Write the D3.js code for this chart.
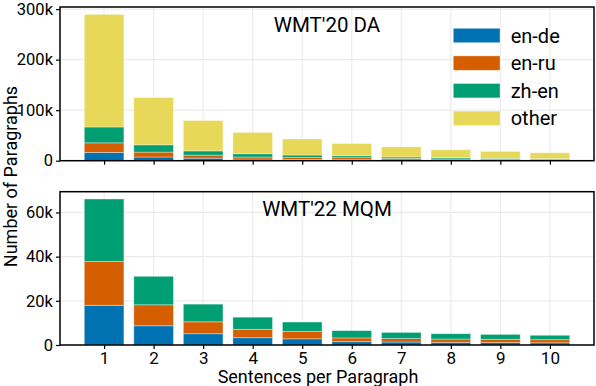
<!DOCTYPE html>
<html>
<head>
<meta charset="utf-8">
<script src="https://cdn.jsdelivr.net/npm/d3@7"></script>
<style>
  html, body { margin: 0; padding: 0; background: #fff; }
  svg { display: block; }
  text { font-family: Roboto, "Noto Sans", sans-serif; fill: #000; }
</style>
</head>
<body>
<svg id="chart" width="596" height="386"></svg>
<script>
// ---- Data ----
const sentences = [1, 2, 3, 4, 5, 6, 7, 8, 9, 10];
const seriesNames = ["en-de", "en-ru", "zh-en", "other"];
const seriesColors = ["#0072B2", "#D55E00", "#009E73", "#E8D85A"];

// WMT'20 DA (counts per segment)
const da_ende  = [16500, 7300, 5000, 3300, 2500, 2000, 1500, 1300, 1000, 900];
const da_enru  = [18800, 9700, 6000, 4000, 3800, 4000, 3000, 2200, 2000, 1600];
const da_zhen  = [31400, 14400, 8400, 6400, 4900, 3800, 2800, 2500, 1700, 1500];
const da_other = [223000, 93600, 60100, 42300, 31800, 24200, 20200, 15600, 13700, 11700];

// WMT'22 MQM
const mqm_ende  = [18000, 8700, 5100, 3300, 2800, 1500, 1350, 1200, 1100, 1000];
const mqm_enru  = [19800, 9500, 5400, 3800, 3400, 1700, 1550, 1500, 1500, 1400];
const mqm_zhen  = [28300, 12900, 8000, 5500, 4200, 3300, 2800, 2400, 2200, 2000];
const mqm_other = [0, 0, 0, 0, 0, 0, 0, 0, 0, 0];

const yTicksTop = [0, 100000, 200000, 300000];
const yTicksBottom = [0, 20000, 40000, 60000];
const titles = ["WMT'20 DA", "WMT'22 MQM"];
const xLabel = "Sentences per Paragraph";
const yLabel = "Number of Paragraphs";

// ---- Layout ----
const svg = d3.select("#chart");
const left = 60, right = 594;
const panels = [
  { top: 7, bottom: 160.7, data: [da_ende, da_enru, da_zhen, da_other], ticks: yTicksTop, title: titles[0], legend: true, showXLabels: false },
  { top: 191.7, bottom: 345, data: [mqm_ende, mqm_enru, mqm_zhen, mqm_other], ticks: yTicksBottom, title: titles[1], legend: false, showXLabels: true }
];

const x = d3.scaleLinear().domain([0.11, 10.89]).range([left, right]);
const barW = (x(1.4) - x(0.6));
const fmtK = d => d === 0 ? "0" : (d / 1000) + "k";

panels.forEach(p => {
  const rows = sentences.map((s, i) => {
    const r = { s };
    seriesNames.forEach((n, k) => r[n] = p.data[k][i]);
    return r;
  });
  const stack = d3.stack().keys(seriesNames)(rows);
  const maxTotal = d3.max(rows, r => d3.sum(seriesNames, n => r[n]));
  const y = d3.scaleLinear().domain([0, maxTotal * 1.05]).range([p.bottom, p.top]);

  const g = svg.append("g");

  // grid
  g.selectAll("line.vg").data(sentences).enter().append("line")
    .attr("x1", d => x(d)).attr("x2", d => x(d))
    .attr("y1", p.top).attr("y2", p.bottom)
    .attr("stroke", "#ebebeb").attr("stroke-width", 1.2);
  g.selectAll("line.hg").data(p.ticks).enter().append("line")
    .attr("x1", left).attr("x2", right)
    .attr("y1", d => y(d)).attr("y2", d => y(d))
    .attr("stroke", "#ebebeb").attr("stroke-width", 1.2);

  // bars
  stack.forEach((layer, k) => {
    g.append("g").selectAll("rect").data(layer).enter().append("rect")
      .attr("x", d => x(d.data.s) - barW / 2)
      .attr("width", barW)
      .attr("y", d => y(d[1]))
      .attr("height", d => Math.max(0, y(d[0]) - y(d[1])))
      .attr("fill", seriesColors[k])
      .attr("stroke", "#ffffff").attr("stroke-opacity", 0.45).attr("stroke-width", 0.8);
  });

  // axes
  const yAxis = d3.axisLeft(y).tickValues(p.ticks).tickFormat(fmtK).tickSize(4).tickPadding(3);
  const ya = g.append("g").attr("transform", `translate(${left},0)`).call(yAxis);
  ya.select(".domain").remove();
  ya.selectAll("line").attr("stroke", "#000").attr("stroke-width", 1.2);
  ya.selectAll("text").attr("font-size", 16.5).attr("font-family", "Roboto").attr("fill", "#000");

  const xAxis = d3.axisBottom(x).tickValues(sentences).tickSize(4).tickPadding(3)
    .tickFormat(p.showXLabels ? d3.format("d") : () => "");
  const xa = g.append("g").attr("transform", `translate(0,${p.bottom})`).call(xAxis);
  xa.select(".domain").remove();
  xa.selectAll("line").attr("stroke", "#000").attr("stroke-width", 1.2);
  xa.selectAll("text").attr("font-size", 17).attr("font-family", "Roboto").attr("fill", "#000");

  // frame
  g.append("rect").attr("x", left).attr("y", p.top)
    .attr("width", right - left).attr("height", p.bottom - p.top)
    .attr("fill", "none").attr("stroke", "#000").attr("stroke-width", 1.5);

  // title
  g.append("text").attr("x", (left + right) / 2).attr("y", p.top + 24.7)
    .attr("text-anchor", "middle").attr("font-size", 20.5).text(p.title);

  if (p.legend) {
    const lg = g.append("g");
    seriesNames.forEach((n, k) => {
      const cy = 35.5 + k * 27.6;
      lg.append("rect").attr("x", 453.3).attr("y", cy - 7.2).attr("width", 46.7).attr("height", 14.4)
        .attr("fill", seriesColors[k]).attr("stroke", "#ffffff").attr("stroke-opacity", 0.45).attr("stroke-width", 0.8);
      lg.append("text").attr("x", 510.7).attr("y", cy).attr("dy", "0.35em")
        .attr("font-size", 20).text(n);
    });
  }
});

// axis labels
svg.append("text").attr("transform", "translate(16.7,176.5) rotate(-90)")
  .attr("text-anchor", "middle").attr("font-size", 18).text(yLabel);
svg.append("text").attr("x", 318).attr("y", 383.3)
  .attr("text-anchor", "middle").attr("font-size", 18).text(xLabel);
</script>
</body>
</html>
